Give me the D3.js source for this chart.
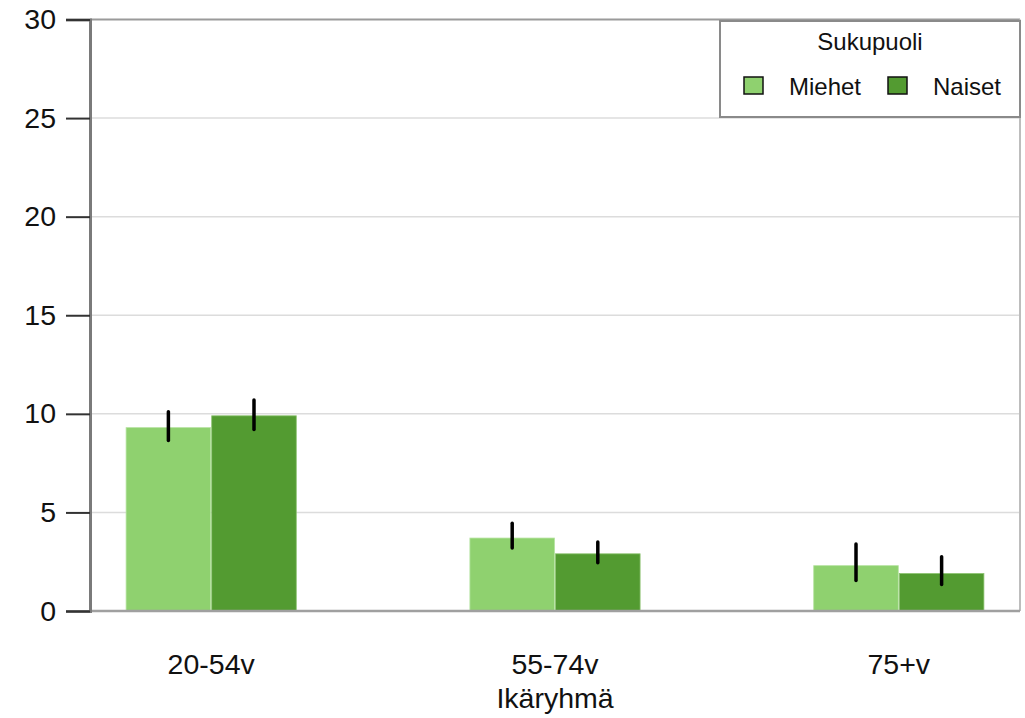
<!DOCTYPE html>
<html>
<head>
<meta charset="utf-8">
<script src="https://cdn.jsdelivr.net/npm/d3@7"></script>
<style>
  html, body { margin: 0; padding: 0; background: #fff; }
  svg { display: block; font-family: Arial, "Liberation Sans", sans-serif; }
</style>
</head>
<body>
<svg id="chart" width="1025" height="718"></svg>
<script>
// ---- data ----
const categories = ["20-54v", "55-74v", "75+v"];
const seriesNames = ["Miehet", "Naiset"];
const miehetValues = [9.3, 3.7, 2.3];
const naisetValues = [9.9, 2.9, 1.9];
const miehetLow = [8.65, 3.2, 1.55];
const miehetHigh = [10.1, 4.45, 3.4];
const naisetLow = [9.2, 2.45, 1.35];
const naisetHigh = [10.7, 3.5, 2.75];
const yTicks = [0, 5, 10, 15, 20, 25, 30];
const xTitle = "Ikäryhmä";
const legendTitle = "Sukupuoli";

const colors = { "Miehet": "#8fd16f", "Naiset": "#539b31" };

const rows = [];
categories.forEach((c, i) => {
  rows.push({ cat: c, series: "Miehet", value: miehetValues[i], lo: miehetLow[i], hi: miehetHigh[i] });
  rows.push({ cat: c, series: "Naiset", value: naisetValues[i], lo: naisetLow[i], hi: naisetHigh[i] });
});

// ---- layout ----
const svg = d3.select("#chart");
const mLeft = 90, mRight = 1020, mTop = 19.5, mBottom = 611;

const x = d3.scaleBand().domain(categories).range([mLeft, mRight]).paddingInner(0.505).paddingOuter(0.105);
const xs = d3.scaleBand().domain(seriesNames).range([0, x.bandwidth()]).paddingInner(0.012);
const y = d3.scaleLinear().domain([0, 30]).range([mBottom, mTop]);

// gridlines
svg.append("g").selectAll("line").data(yTicks.filter(t => t > 0 && t < 30)).join("line")
  .attr("x1", mLeft).attr("x2", mRight)
  .attr("y1", d => y(d)).attr("y2", d => y(d))
  .attr("stroke", "#dcdcdc").attr("stroke-width", 1.5);

// frame: top and right
svg.append("line").attr("x1", mLeft).attr("x2", mRight).attr("y1", y(30)).attr("y2", y(30))
  .attr("stroke", "#9a9a9a").attr("stroke-width", 2);
svg.append("line").attr("x1", mRight).attr("x2", mRight).attr("y1", y(30)).attr("y2", y(0))
  .attr("stroke", "#bdbdbd").attr("stroke-width", 2);

// bars
svg.append("g").selectAll("rect").data(rows).join("rect")
  .attr("x", d => x(d.cat) + xs(d.series))
  .attr("width", xs.bandwidth())
  .attr("y", d => y(d.value))
  .attr("height", d => y(0) - y(d.value))
  .attr("fill", d => colors[d.series])
  .attr("stroke", d => d.series === "Miehet" ? "#b5e3a0" : "#8cc26f")
  .attr("stroke-width", 0.8);

// error bars
svg.append("g").selectAll("line").data(rows).join("line")
  .attr("x1", d => x(d.cat) + xs(d.series) + xs.bandwidth() / 2)
  .attr("x2", d => x(d.cat) + xs(d.series) + xs.bandwidth() / 2)
  .attr("y1", d => y(d.lo)).attr("y2", d => y(d.hi))
  .attr("stroke", "#000").attr("stroke-width", 3.5).attr("stroke-linecap", "round");

// bottom axis line
svg.append("line").attr("x1", mLeft).attr("x2", mRight).attr("y1", y(0)).attr("y2", y(0))
  .attr("stroke", "#a0a0a0").attr("stroke-width", 2.5);

// y axis
const yAxis = svg.append("g").attr("transform", `translate(${mLeft},0)`)
  .call(d3.axisLeft(y).tickValues(yTicks).tickSize(24).tickPadding(10).tickFormat(d3.format("d")));
yAxis.select(".domain").attr("stroke", "#7a7a7a").attr("stroke-width", 3);
yAxis.selectAll(".tick line").attr("stroke", "#333").attr("stroke-width", 2);
yAxis.selectAll(".tick text").attr("font-size", 28.5).attr("fill", "#111")
  .attr("font-family", "Arial, 'Liberation Sans', sans-serif");

// x axis labels
const xAxis = svg.append("g").attr("transform", `translate(0,${mBottom})`)
  .call(d3.axisBottom(x).tickSize(0).tickPadding(43));
xAxis.select(".domain").remove();
xAxis.selectAll(".tick text").attr("font-size", 28.5).attr("fill", "#111")
  .attr("font-family", "Arial, 'Liberation Sans', sans-serif");

svg.append("text").attr("x", x("55-74v") + x.bandwidth() / 2).attr("y", 708)
  .attr("text-anchor", "middle").attr("font-size", 28.5).attr("fill", "#111").text(xTitle);

// legend
const lg = svg.append("g");
lg.append("rect").attr("x", 720).attr("y", 21).attr("width", 300).attr("height", 96)
  .attr("fill", "#fff").attr("stroke", "#8a8a8a").attr("stroke-width", 2);
lg.append("text").attr("x", 870).attr("y", 50).attr("text-anchor", "middle")
  .attr("font-size", 24).attr("fill", "#111").text(legendTitle);
const legX = { "Miehet": 744, "Naiset": 888 };
seriesNames.forEach(s => {
  lg.append("rect").attr("x", legX[s]).attr("y", 77).attr("width", 19).attr("height", 17)
    .attr("fill", colors[s]).attr("stroke", "#111").attr("stroke-width", 1.5);
  lg.append("text").attr("x", legX[s] + 45).attr("y", 95)
    .attr("font-size", 24).attr("fill", "#111").text(s);
});
</script>
</body>
</html>
